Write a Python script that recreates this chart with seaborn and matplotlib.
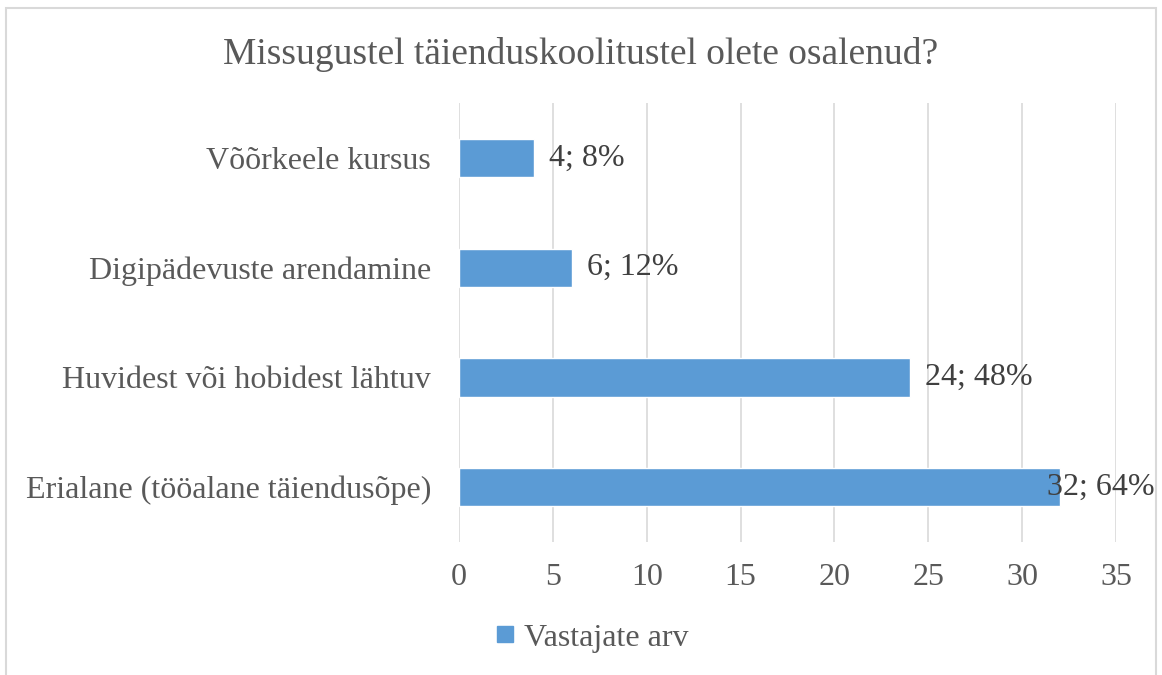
import matplotlib
matplotlib.use("Agg")
import matplotlib.pyplot as plt
import seaborn as sns
import pandas as pd
from matplotlib.patches import Rectangle
from matplotlib.lines import Line2D

# data
categories = ["Võõrkeele kursus", "Digipädevuste arendamine",
              "Huvidest või hobidest lähtuv", "Erialane (tööalane täiendusõpe)"]
counts = [4, 6, 24, 32]
percents = [8, 12, 48, 64]
ticks = [0, 5, 10, 15, 20, 25, 30, 35]

sns.set_theme(style="white")
plt.rcParams['font.family'] = ['Liberation Serif', 'DejaVu Serif']

txt = "#595959"
blue = "#5B9BD5"

df = pd.DataFrame({"kat": categories, "arv": counts})

fig = plt.figure(figsize=(11.62, 6.75), dpi=100)
ax = fig.add_axes([0.395, 0.197, 0.5655, 0.65])

sns.barplot(data=df, y="kat", x="arv", orient="h", color=blue,
            saturation=1, width=0.35, ax=ax)

ax.set_xlim(0, 35)
ax.set_ylim(3.5, -0.5)
ax.set_xticks(ticks)
ax.grid(axis="x", color="#d9d9d9", linewidth=1.2)
ax.set_axisbelow(True)
for s in ax.spines.values():
    s.set_visible(False)
ax.set_xlabel("")
ax.set_ylabel("")
ax.tick_params(axis="x", labelsize=23, colors=txt, length=0, pad=15)
ax.tick_params(axis="y", labelsize=23, colors=txt, length=0, pad=20)

# data labels; the last one is pulled back onto the bar like Excel does
for i, (c, p) in enumerate(zip(counts, percents)):
    off = -9 if c == max(counts) else 11
    ax.annotate(f"{c}; {p}%", xy=(c, i), xytext=(off, 0),
                textcoords="offset points", va="center", ha="left",
                fontsize=23, color="#404040")

fig.text(0.5, 0.92, "Missugustel täienduskoolitustel olete osalenud?",
         ha="center", va="center", fontsize=27, color=txt)

h = Line2D([], [], marker="s", linestyle="none", markersize=12,
           markerfacecolor=blue, markeredgecolor=blue)
fig.legend([h], ["Vastajate arv"], loc="center", bbox_to_anchor=(0.507, 0.055),
           frameon=False, fontsize=23, labelcolor=txt, handletextpad=0.1,
           handlelength=1.0)

fig.patches.append(Rectangle((0.005, -0.01), 0.99, 0.998, transform=fig.transFigure,
                             fill=False, edgecolor="#d9d9d9", linewidth=1.5))

fig.savefig("out.png", dpi=100)
